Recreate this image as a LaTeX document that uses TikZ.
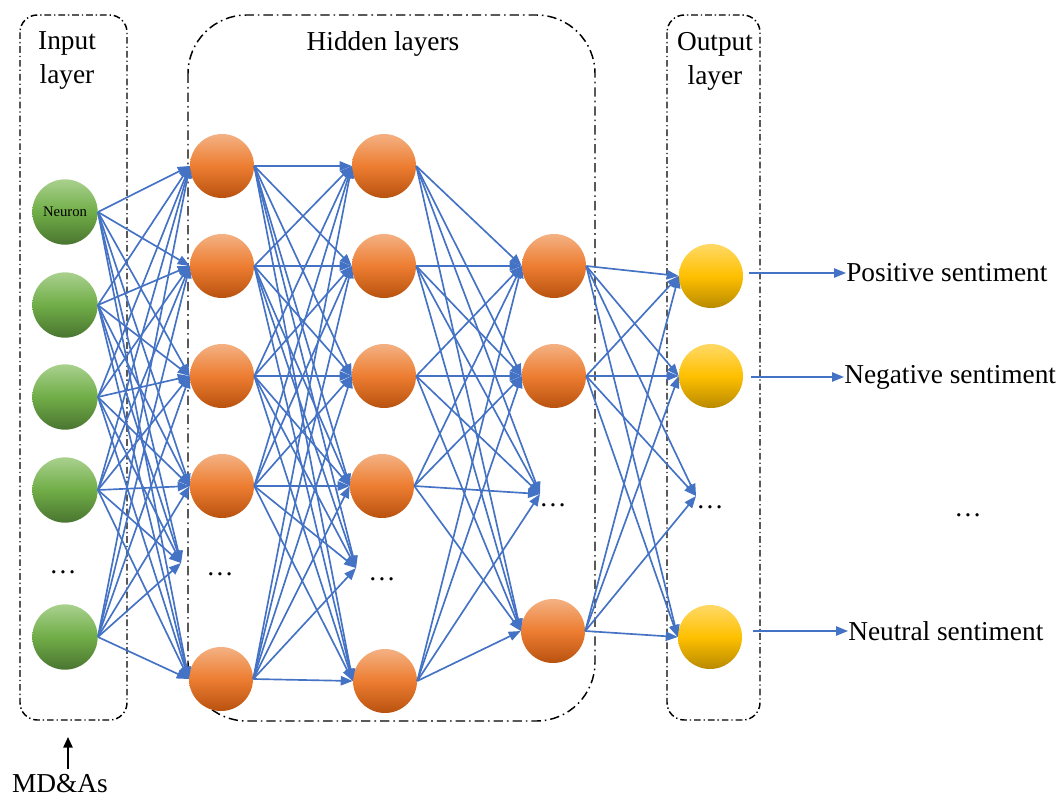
\documentclass[tikz,border=0pt]{standalone}
\usepackage{fontspec}
\setmainfont{Liberation Serif}
\usetikzlibrary{arrows.meta}
\definecolor{connblue}{HTML}{4472C4}
\definecolor{gTop}{HTML}{A9D18E}
\definecolor{gMid}{HTML}{70AD47}
\definecolor{gBot}{HTML}{4A7530}
\definecolor{oTop}{HTML}{F4B183}
\definecolor{oMid}{HTML}{ED7D31}
\definecolor{oBot}{HTML}{B8520F}
\definecolor{yTop}{HTML}{FFD966}
\definecolor{yMid}{HTML}{FFC000}
\definecolor{yBot}{HTML}{B88A00}
\begin{document}
\begin{tikzpicture}[x=0.75pt,y=-0.75pt,
  neuron/.style={circle,minimum size=48pt,inner sep=0pt},
  innode/.style={neuron,top color=gTop,bottom color=gBot,middle color=gMid},
  hidnode/.style={neuron,top color=oTop,bottom color=oBot,middle color=oMid},
  outnode/.style={neuron,top color=yTop,bottom color=yBot,middle color=yMid},
  conn/.style={draw=connblue,line width=1.25pt,-{Triangle[length=9pt,width=7pt]}},
  layerbox/.style={draw=black,line width=1.1pt,dash pattern=on 5pt off 2.2pt on 1pt off 2.2pt},
  lbl/.style={font=\fontsize{20.5}{25.5}\selectfont,align=center,inner sep=1pt},
  dotlbl/.style={font=\fontsize{20.5}{25}\selectfont,inner sep=0pt}
]
\useasboundingbox (0,0) rectangle (1063,799);

% layer boxes
\draw[layerbox,rounded corners=13pt] (20,15) rectangle (127,720);
\draw[layerbox,rounded corners=44pt,dash pattern=on 7pt off 3pt on 1.2pt off 3pt] (188,15) rectangle (595,721);
\draw[layerbox,rounded corners=13pt] (667,15) rectangle (760,720);

% layer titles
\node[lbl] (tin) at (67,61) {Input\\layer};
\node[lbl] (thid) at (383,44) {Hidden layers};
\node[lbl] (tout) at (715,61) {Output\\layer};

% input layer
\node[innode,minimum size=49pt,font=\fontsize{11}{12}\selectfont] (i1) at (65,212) {Neuron};
\node[innode,minimum size=49pt] (i2) at (65,305) {};
\node[innode,minimum size=49pt] (i3) at (65,397) {};
\node[innode,minimum size=49pt] (i4) at (65,490) {};
\node[innode,minimum size=49pt] (i5) at (65,637) {};
\node[dotlbl] (id) at (63,572) {…};

% hidden layer 1
\node[hidnode] (a1) at (222,166) {};
\node[hidnode] (a2) at (222,266) {};
\node[hidnode] (a3) at (222,376) {};
\node[hidnode] (a4) at (222,486) {};
\node[hidnode] (a5) at (221,679) {};
\node[dotlbl] (ad) at (220,574) {…};
\coordinate (adt) at (181,563);

% hidden layer 2
\node[hidnode] (b1) at (384,166) {};
\node[hidnode] (b2) at (384,266) {};
\node[hidnode] (b3) at (384,376) {};
\node[hidnode] (b4) at (382,486) {};
\node[hidnode] (b5) at (385,681) {};
\node[dotlbl] (bd) at (382,579) {…};
\coordinate (bdt) at (356,568);

% hidden layer 3
\node[hidnode] (c1) at (554,266) {};
\node[hidnode] (c2) at (554,376) {};
\node[hidnode] (c3) at (553,631) {};
\node[dotlbl] (cd) at (553,505) {…};
\coordinate (cdt) at (540,494);

% output layer
\node[outnode] (o1) at (711,276) {};
\node[outnode] (o2) at (711,376) {};
\node[outnode] (o3) at (710,637) {};
\node[dotlbl] (od) at (710,507) {…};
\coordinate (odt) at (696,496);

% outputs
\node[lbl,anchor=west,inner sep=0pt] (pos) at (846,273) {Positive sentiment};
\node[lbl,anchor=west,inner sep=0pt] (neg) at (844,377) {Negative sentiment};
\node[lbl,anchor=west,inner sep=0pt] (neu) at (848,631) {Neutral sentiment};
\node[dotlbl] (rd) at (968,515) {…};

% connections input -> hidden 1
\foreach \s in {1,...,5}{
  \foreach \t in {a1,a2,a3,a4,a5}{\draw[conn] (i\s.east) -- (\t.west);}
  \draw[conn] (i\s.east) -- (adt);
}
% hidden 1 -> hidden 2
\foreach \s in {1,...,5}{
  \foreach \t in {b1,b2,b3,b4,b5}{\draw[conn] (a\s.east) -- (\t.west);}
  \draw[conn] (a\s.east) -- (bdt);
}
% hidden 2 -> hidden 3
\foreach \s in {1,...,5}{
  \foreach \t in {c1,c2,c3}{\draw[conn] (b\s.east) -- (\t.west);}
  \draw[conn] (b\s.east) -- (cdt);
}
% hidden 3 -> output
\foreach \s in {1,2,3}{
  \foreach \t in {o1,o2,o3}{\draw[conn] (c\s.east) -- (\t.west);}
  \draw[conn] (c\s.east) -- (odt);
}
% output arrows
\draw[conn] ([xshift=4pt]o1.east |- pos.west) -- (pos.west);
\draw[conn] ([xshift=6pt]o2.east |- neg.west) -- (neg.west);
\draw[conn] ([xshift=8pt]o3.east |- neu.west) -- (neu.west);

% MD&As
\node[lbl,inner sep=0pt] (md) at (60,784) {MD\&As};
\coordinate (mdtip) at (68,737);
\draw[line width=1.3pt,-{Triangle[length=8pt,width=7pt]}] (68,769) -- (mdtip);
\end{tikzpicture}
\end{document}
